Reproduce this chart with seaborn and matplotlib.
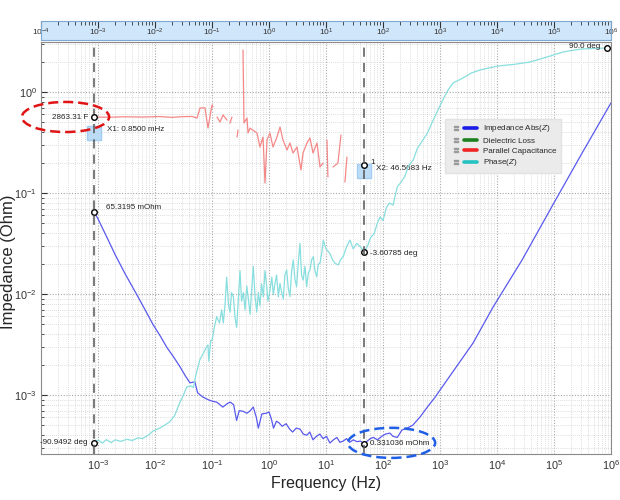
import numpy as np
import pandas as pd
import matplotlib
matplotlib.use("Agg")
import matplotlib.pyplot as plt
from matplotlib.patches import Ellipse
from matplotlib.lines import Line2D
from matplotlib.legend_handler import HandlerTuple
from matplotlib.ticker import LogLocator, NullLocator, NullFormatter
import seaborn as sns

# ---- data ----
# Impedance magnitude |Z| (Ohm)
imp_freq = [0.00085, 0.001, 0.0015, 0.002, 0.003, 0.0045, 0.0065, 0.0092, 0.0125, 0.0162,
            0.021, 0.0275, 0.034, 0.041, 0.05, 0.056, 0.068,
            0.085, 0.1, 0.121, 0.155, 0.19, 0.21, 0.24, 0.27, 0.3, 0.35, 0.41, 0.47, 0.53,
            0.6, 0.65, 0.75, 0.9, 1.0, 1.1, 1.2, 1.35, 1.5, 1.7, 2.0, 2.3, 2.6, 3.0, 3.5,
            4.0, 4.6, 5.2, 5.9, 6.8, 7.8, 8.9, 10.2, 11.7, 13.5, 15.5, 17.6, 20, 23, 26,
            30, 35, 40, 46.5683, 53, 60, 68, 80, 95, 110, 132, 150, 178, 215, 263, 330,
            446, 600, 818, 1500, 3800, 8500, 27500, 1e5, 3e5, 1e6]
imp_abs = [0.0653195, 0.0555, 0.0345, 0.0245, 0.0158, 0.0105, 0.0072, 0.0050, 0.0038, 0.00295,
           0.0024, 0.0019, 0.00155, 0.00132, 0.00135, 0.00105, 9.6e-4,
           9.0e-4, 8.7e-4, 8.5e-4, 7.6e-4, 8.3e-4, 8.5e-4, 8.0e-4, 5.6e-4, 7.0e-4, 6.9e-4,
           6.6e-4, 7.0e-4, 7.6e-4, 6.0e-4, 4.7e-4, 6.5e-4, 6.6e-4, 6.8e-4, 5.8e-4, 4.7e-4,
           5.5e-4, 5.3e-4, 4.9e-4, 5.2e-4, 4.6e-4, 4.3e-4, 4.7e-4, 4.6e-4, 4.1e-4, 4.0e-4,
           4.3e-4, 3.6e-4, 3.9e-4, 4.1e-4, 3.7e-4, 3.9e-4, 3.35e-4, 3.6e-4, 3.8e-4, 3.4e-4,
           3.5e-4, 3.7e-4, 3.4e-4, 3.6e-4, 3.45e-4, 3.5e-4, 3.31036e-4, 3.5e-4, 3.7e-4, 3.8e-4,
           3.6e-4, 3.9e-4, 4.1e-4, 4.2e-4, 3.9e-4, 3.8e-4, 4.5e-4, 4.7e-4, 5.0e-4, 6.05e-4,
           7.6e-4, 9.5e-4, 1.55e-3, 3.27e-3, 7.4e-3, 0.0217, 0.08, 0.24, 0.78]

# Phase(Z) (deg)
phase_freq = [0.00085, 0.001, 0.0012, 0.0014, 0.0017, 0.002, 0.0025, 0.0032, 0.004, 0.005,
              0.006, 0.0075, 0.0092, 0.012, 0.015, 0.018, 0.022, 0.0275, 0.031, 0.036, 0.042,
              0.047, 0.052, 0.061, 0.07, 0.08, 0.085, 0.088, 0.095, 0.1, 0.11, 0.121, 0.135,
              0.148, 0.158, 0.17, 0.181, 0.195, 0.207, 0.22, 0.237, 0.255, 0.271, 0.29, 0.31,
              0.33, 0.355, 0.38, 0.407, 0.435, 0.465, 0.5, 0.53, 0.57, 0.61, 0.65, 0.695,
              0.74, 0.795, 0.85, 0.91, 0.96, 1.04, 1.12, 1.19, 1.27, 1.36, 1.46, 1.56, 1.67,
              1.78, 1.9, 2.04, 2.18, 2.33, 2.5, 2.67, 2.85, 3.05, 3.27, 3.5, 3.72, 3.98, 4.27,
              4.57, 4.9, 5.24, 5.6, 5.98, 6.4, 6.85, 7.35, 7.85, 8.4, 8.97, 10, 11.7, 13,
              14.4, 16.4, 18, 20, 23, 26.3, 30, 34.7, 40, 46.5683, 55, 60, 70, 80, 89, 100,
              115, 130, 150, 178, 200, 240, 280, 339, 400, 500, 600, 760, 900, 1120, 1400,
              1700, 2500, 3500, 5000, 1e4, 2e4, 3.8e4, 7.6e4, 1.45e5, 2.9e5, 5e5, 8.5e5]
phase_deg = [-90.9492, -89.6, -91.0, -89.4, -90.8, -89.5, -90.2, -89.3, -89.8, -88.6,
             -88.9, -87.5, -85.5, -84.2, -82.7, -81.3, -78.5, -72.2, -69.5, -65.3, -64.8,
             -65.5, -60.0, -52.9, -50.0, -47.0, -46.0, -53.5, -44.0, -44.0, -38.0, -33.0, -36.0,
             -30.0, -36.0, -27.0, -15.0, -28.0, -31.0, -22.0, -24.0, -34.0, -38.0, -25.0, -12.0,
             -26.0, -22.0, -30.0, -19.0, -25.0, -32.0, -20.0, -10.0, -24.0, -31.0, -22.0, -28.0,
             -18.0, -24.0, -12.0, -19.0, -26.0, -21.0, -15.0, -23.0, -18.0, -14.0, -24.0, -17.8, -22.0,
             -25.0, -14.0, -11.7, -20.0, -23.9, -12.0, -7.1, -16.0, -19.3, -8.0, 0.5, -14.0, -16.3, -10.0,
             -19.3, -13.0, -11.7, -7.0, -5.6, -12.0, -14.8, -9.0, -8.6, -4.0, 2.0, -2.0, -4.1, -7.0,
             -8.6, -9.4, -7.0, -5.6, -1.0, 2.0, -2.0, 0.5, -1.0, -3.60785, 0.0, 3.0, 5.0, 10.0, 12.6, 11.0,
             17.0, 19.0, 18.0, 26.3, 28.0, 31.0, 36.0, 38.7, 44.0, 47.8, 51.0, 57.0, 61.0, 66.2, 71.0,
             74.0, 76.2, 78.5, 79.9, 81.7, 82.5, 83.6, 85.9, 88.2, 89.5, 89.8, 90.0]

# Parallel capacitance (F), broken into the visible segments
cap_freq = [0.00085, 0.0015, 0.003, 0.006, 0.012, 0.02, 0.03, 0.045, 0.0546, 0.0617, 0.0753,
            0.085, 0.1, 0.104,
            0.1225, 0.138, 0.156, 0.183,
            0.207, 0.224,
            0.275, 0.286,
            0.35, 0.364, 0.411, 0.429, 0.464, 0.524, 0.615, 0.695, 0.785, 0.851, 0.923, 1.04,
            1.175, 1.38, 1.56, 1.76, 2.07, 2.33, 2.64, 3.1, 3.64, 3.95, 4.64, 5.24, 5.92,
            6.95, 7.85, 8.85,
            10.4, 10.8,
            13.3, 16.2, 18.3,
            21.5, 23.3]
cap_val = [2863.31, 2850, 2880, 2860, 2895, 2840, 2885, 2900, 2800, 3515, 3530,
           2228, 3766, 3600,
           2863, 2555, 3000, 2670,
           2490, 2863,
           1815, 2128,
           13180, 2497, 2800, 1990, 2220, 2120, 1990, 1445, 1815, 636, 1695, 1990,
           1445, 1815, 2280, 1695, 1350, 1583, 1260, 1445, 855, 1260, 1583, 1775, 1260,
           1583, 916, 1003,
           1695, 730,
           916, 1003, 1900,
           650, 1150]
cap_seg = [0] * 14 + [1] * 4 + [2] * 2 + [3] * 2 + [4] * 28 + [5] * 2 + [6] * 3 + [7] * 2

cursor_x1 = 0.00085
cursor_x2 = 46.5683

legend_labels = ["Impedance Abs($\\mathit{Z}$)", "Dielectric Loss",
                 "Parallel Capacitance", "Phase($\\mathit{Z}$)"]
legend_colors = ["#1a1ae6", "#1d7f1d", "#f02424", "#25c2c2"]

imp_df = pd.DataFrame({"freq": imp_freq, "z": imp_abs})
phase_df = pd.DataFrame({"freq": phase_freq, "deg": phase_deg})
cap_df = pd.DataFrame({"freq": cap_freq, "cap": cap_val, "seg": cap_seg})

# ---- style ----
sns.set_style("white")
plt.rcParams['font.family'] = ['Liberation Sans', 'DejaVu Sans']
plt.rcParams['mathtext.fontset'] = 'custom'
plt.rcParams['mathtext.rm'] = 'Liberation Sans'
plt.rcParams['mathtext.it'] = 'Liberation Sans:italic'

c_imp = "#5959ee"
c_cap = "#f48888"
c_phase = "#88dede"

fig = plt.figure(figsize=(6.2, 5.0), dpi=100)
ax = fig.add_axes([41 / 620, 46 / 500, 570 / 620, 412 / 500])
ax.set_xscale("log")
ax.set_yscale("log")

sns.lineplot(data=imp_df, x="freq", y="z", ax=ax, color=c_imp, lw=0.9,
             sort=False, estimator=None)

axp = ax.twinx()
sns.lineplot(data=phase_df, x="freq", y="deg", ax=axp, color=c_phase, lw=0.9,
             sort=False, estimator=None)

axc = ax.twinx()
axc.set_yscale("log")
sns.lineplot(data=cap_df, x="freq", y="cap", units="seg", ax=axc, color=c_cap, lw=0.9,
             sort=False, estimator=None)

ax.set_xlim(1e-4, 1e6)
ax.set_ylim(2.606e-4, 3.126)
axp.set_ylim(-96.0, 92.75)
axc.set_ylim(1.318, 15840)

for a in (axp, axc):
    a.set_ylabel("")
    a.yaxis.set_major_locator(NullLocator())
    a.yaxis.set_minor_locator(NullLocator())
    for s in a.spines.values():
        s.set_visible(False)

# grid and ticks
ax.set_xticks([10.0 ** k for k in range(-3, 7)])
ax.set_yticks([10.0 ** k for k in range(-3, 1)])
ax.xaxis.set_minor_locator(LogLocator(base=10, subs=np.arange(2, 10), numticks=30))
ax.yaxis.set_minor_locator(LogLocator(base=10, subs=np.arange(2, 10), numticks=30))
ax.xaxis.set_minor_formatter(NullFormatter())
ax.yaxis.set_minor_formatter(NullFormatter())
ax.grid(which="major", color="#a8a8a8", ls=(0, (1, 1.5)), lw=0.8)
ax.grid(which="minor", color="#d2d2d2", ls=(0, (1, 1.5)), lw=0.6)
ax.tick_params(which="both", direction="in", colors="#333333", labelsize=7.8)
ax.tick_params(axis="y", pad=3)
ax.tick_params(axis="x", pad=3)
ax.tick_params(which="major", length=4)
ax.tick_params(which="minor", length=2)
for s in ax.spines.values():
    s.set_color("#8a8a8a")
ax.set_xlabel("Frequency (Hz)", fontsize=11.5, labelpad=3)
ax.set_ylabel("Impedance (Ohm)", fontsize=12)
ax.yaxis.set_label_coords(-0.0445, 0.466)

# cursors
for xc in (cursor_x1, cursor_x2):
    axc.axvline(xc, color="#555555", ls=(0, (6, 4)), lw=1.1, zorder=3)

ax.plot([cursor_x1], [0.393], marker="s", ms=10, mfc="#bcdcf6", mec="#a3cdf2", zorder=4)
ax.plot([cursor_x2], [0.165], marker="s", ms=10, mfc="#bcdcf6", mec="#a3cdf2", zorder=4)

mk = dict(marker="o", ms=4, mfc="white", mec="black", mew=1.0, ls="none", zorder=6)
fs = 5.8
ax.plot([cursor_x1], [imp_abs[0]], **mk)
ax.plot([cursor_x2], [0.331036e-3], **mk)
ax.plot([cursor_x2], [0.189], **mk)
axp.plot([cursor_x1], [phase_deg[0]], **mk)
axp.plot([cursor_x2], [-3.60785], **mk)
axp.plot([phase_freq[-1]], [phase_deg[-1]], **mk)
axc.plot([cursor_x1], [cap_val[0]], **mk)


def note(a, x, y, s, dx, dy, ha="left"):
    a.annotate(s, xy=(x, y), xytext=(dx, dy), textcoords="offset pixels",
               fontsize=fs, ha=ha, va="center", color="#222222", zorder=7)


note(axc, cursor_x1, cap_val[0], "2863.31 F", -6, 0, ha="right")
note(axc, cursor_x1, cap_val[0], "X1: 0.8500 mHz", 13, -12)
note(ax, cursor_x1, imp_abs[0], "65.3195 mOhm", 12, 4)
note(axp, cursor_x1, phase_deg[0], "-90.9492 deg", -6, 0, ha="right")
note(axp, cursor_x2, -3.60785, "-3.60785 deg", 6, -1)
note(ax, cursor_x2, 0.331036e-3, "0.331036 mOhm", 6, 0)
note(axp, phase_freq[-1], phase_deg[-1], "90.0 deg", -7, 2, ha="right")
note(ax, cursor_x2, 0.189, "X2: 46.5683 Hz", 12, -3)
note(ax, cursor_x2, 0.189, "1", 6, 3)

# highlight ellipses
axc.add_patch(Ellipse((0.043, 0.818), 0.153, 0.073, transform=ax.transAxes, fill=False,
                      ec="#e01414", ls=(0, (4, 2)), lw=1.8, clip_on=False, zorder=8))
axc.add_patch(Ellipse((0.615, 0.027), 0.153, 0.073, transform=ax.transAxes, fill=False,
                      ec="#1f5fe6", ls=(0, (4, 2)), lw=1.8, clip_on=False, zorder=8))

# legend
handles = [(Line2D([], [], marker="$=$", color="#9a9a9a", ls="none", ms=3.5),
            Line2D([], [], color=c, lw=2.6)) for c in legend_colors]
leg = axc.legend(handles, legend_labels, loc="upper left", bbox_to_anchor=(0.709, 0.813),
                 handler_map={tuple: HandlerTuple(ndivide=None, pad=0.2)},
                 fontsize=5.8, frameon=True, facecolor="#ebebeb", edgecolor="#e2e2e2",
                 framealpha=1, fancybox=False, handlelength=3.4, handletextpad=0.7,
                 borderpad=0.55, labelspacing=0.32, borderaxespad=0)
leg.set_zorder(9)

# top frequency band
band = fig.add_axes([41 / 620, 460 / 500, 570 / 620, 19 / 500])
band.set_xscale("log")
band.set_xlim(1e-4, 1e6)
band.set_facecolor("#cfe6fb")
band.set_yticks([])
band.set_xticks([10.0 ** k for k in range(-4, 7)])
band.xaxis.set_minor_locator(LogLocator(base=10, subs=np.arange(2, 10), numticks=30))
band.xaxis.set_minor_formatter(NullFormatter())
band.tick_params(axis="x", which="both", top=True, bottom=False, labeltop=True,
                 labelbottom=False, direction="in", labelsize=6, pad=-12.5, colors="#333333")
band.tick_params(axis="x", which="major", length=5)
band.tick_params(axis="x", which="minor", length=3)
for s in band.spines.values():
    s.set_color("#7ea8d0")

fig.savefig("out.png", dpi=100)
